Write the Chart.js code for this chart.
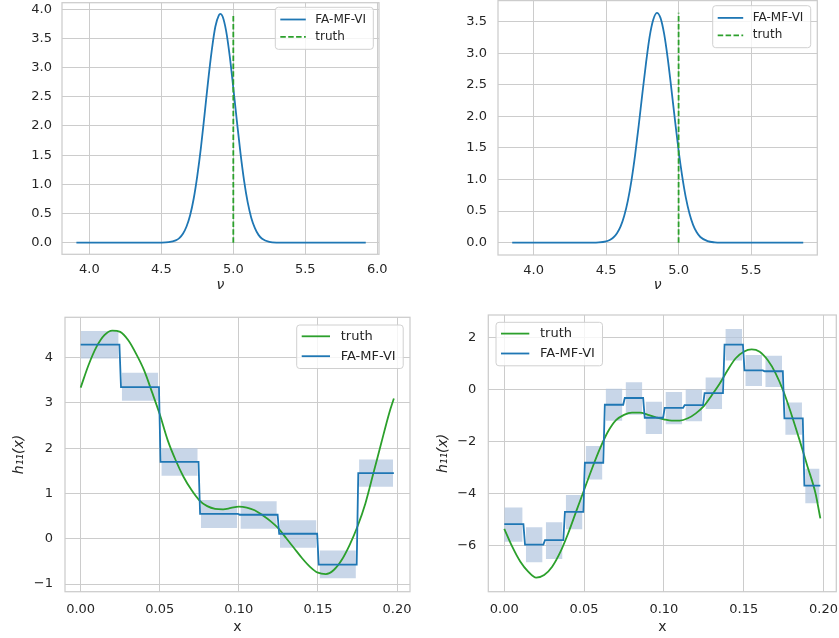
<!DOCTYPE html>
<html>
<head>
<meta charset="utf-8">
<script src="https://cdn.jsdelivr.net/npm/chart.js@4.4.0/dist/chart.umd.min.js"></script>
<style>
  body { margin: 0; background: #fff; }
  canvas { position: absolute; }
</style>
</head>
<body>
<canvas id="c1" width="420" height="300" style="left:0;top:0"></canvas>
<canvas id="c2" width="419" height="300" style="left:420px;top:0"></canvas>
<canvas id="c3" width="420" height="338" style="left:0;top:300px"></canvas>
<canvas id="c4" width="419" height="338" style="left:420px;top:300px"></canvas>
<script>
// posterior density of nu, first run
var nuX1 = [3.91, 4.40, 4.50, 4.55, 4.60, 4.625, 4.65, 4.675, 4.70, 4.725, 4.75, 4.775, 4.80, 4.825, 4.85, 4.875, 4.90, 4.91, 4.925, 4.95, 4.975, 5.00, 5.025, 5.05, 5.075, 5.10, 5.125, 5.15, 5.175, 5.20, 5.25, 5.30, 5.40, 5.92];
var nuDens1 = [0, 0, 0.001, 0.008, 0.039, 0.079, 0.152, 0.277, 0.47, 0.757, 1.15, 1.63, 2.19, 2.77, 3.29, 3.70, 3.90, 3.92, 3.88, 3.63, 3.20, 2.65, 2.08, 1.53, 1.06, 0.69, 0.425, 0.25, 0.134, 0.069, 0.015, 0.002, 0, 0];

// posterior density of nu, second run
var nuX2 = [3.852, 4.40, 4.45, 4.50, 4.525, 4.55, 4.575, 4.60, 4.625, 4.65, 4.675, 4.70, 4.725, 4.75, 4.775, 4.80, 4.825, 4.85, 4.875, 4.90, 4.925, 4.95, 4.975, 5.00, 5.025, 5.05, 5.075, 5.10, 5.125, 5.15, 5.20, 5.25, 5.30, 5.40, 5.86];
var nuDens2 = [0, 0.001, 0.004, 0.021, 0.043, 0.082, 0.150, 0.258, 0.426, 0.666, 0.988, 1.39, 1.86, 2.36, 2.84, 3.26, 3.53, 3.64, 3.56, 3.31, 2.92, 2.44, 1.94, 1.46, 1.05, 0.713, 0.462, 0.283, 0.164, 0.090, 0.024, 0.005, 0.001, 0, 0];

var nuTrue = 5.0;
var truthTop1 = 3.92;
var truthTop2 = 3.64;

// h11(x) truth curves
var truthX = [0, 0.005, 0.01, 0.015, 0.02, 0.025, 0.03, 0.035, 0.04, 0.045, 0.05, 0.055, 0.06, 0.065, 0.07, 0.075, 0.08, 0.085, 0.09, 0.095, 0.10, 0.105, 0.11, 0.115, 0.12, 0.125, 0.13, 0.135, 0.14, 0.145, 0.15, 0.155, 0.16, 0.165, 0.17, 0.175, 0.18, 0.185, 0.19, 0.195, 0.198];
var truthY3 = [3.34, 3.84, 4.24, 4.50, 4.60, 4.57, 4.39, 4.09, 3.73, 3.25, 2.75, 2.18, 1.74, 1.37, 1.08, 0.85, 0.72, 0.66, 0.65, 0.68, 0.71, 0.69, 0.63, 0.52, 0.39, 0.23, 0.01, -0.21, -0.43, -0.62, -0.75, -0.78, -0.69, -0.47, -0.14, 0.27, 0.78, 1.44, 2.11, 2.77, 3.10];
var truthY4 = [-5.35, -6.04, -6.61, -7.00, -7.23, -7.13, -6.81, -6.26, -5.53, -4.69, -3.86, -3.03, -2.26, -1.61, -1.17, -0.97, -0.88, -0.88, -0.97, -1.06, -1.14, -1.19, -1.19, -1.10, -0.91, -0.63, -0.21, 0.24, 0.76, 1.21, 1.46, 1.55, 1.46, 1.14, 0.63, -0.08, -0.97, -1.94, -2.96, -3.99, -4.95];

// FA-MF-VI piecewise constant fits with bands
var stepEdges3 = [0, 0.025, 0.05, 0.075, 0.1, 0.125, 0.15, 0.175, 0.1985];
var stepMean3 = [4.29, 3.35, 1.70, 0.55, 0.53, 0.11, -0.57, 1.45];
var bandHi3 = [4.59, 3.67, 2.00, 0.855, 0.83, 0.41, -0.26, 1.75];
var bandLo3 = [3.98, 3.05, 1.39, 0.236, 0.22, -0.20, -0.875, 1.15];

var stepEdges4 = [0, 0.0125, 0.025, 0.0375, 0.05, 0.0625, 0.075, 0.0875, 0.1, 0.1125, 0.125, 0.1375, 0.15, 0.1625, 0.175, 0.1875, 0.1985];
var stepMean4 = [-5.17, -5.96, -5.79, -4.70, -2.81, -0.58, -0.32, -1.08, -0.70, -0.59, -0.13, 1.73, 0.74, 0.71, -1.10, -3.69];
var bandHi4 = [-4.53, -5.29, -5.10, -4.05, -2.17, 0.04, 0.29, -0.46, -0.09, 0.01, 0.47, 2.33, 1.33, 1.31, -0.49, -3.04];
var bandLo4 = [-5.85, -6.64, -6.51, -5.37, -3.45, -1.19, -0.96, -1.70, -1.33, -1.21, -0.74, 1.12, 0.14, 0.10, -1.73, -4.37];

var ticksNu1 = [4.0, 4.5, 5.0, 5.5, 6.0];
var ticksNu2 = [4.0, 4.5, 5.0, 5.5];
var ticksDens1 = [0, 0.5, 1.0, 1.5, 2.0, 2.5, 3.0, 3.5, 4.0];
var ticksDens2 = [0, 0.5, 1.0, 1.5, 2.0, 2.5, 3.0, 3.5];
var ticksX = [0, 0.05, 0.10, 0.15, 0.20];
var ticksH3 = [-1, 0, 1, 2, 3, 4];
var ticksH4 = [-6, -4, -2, 0, 2];

var BLUE = '#1f77b4';
var GREEN = '#2ca02c';
var BAND = 'rgba(176,196,222,0.7)';
var TEXT = '#262626';
var GRID = '#cccccc';
var FONT = '"DejaVu Sans", sans-serif';
var LW = 1.8;

function pts(xs, ys) {
  return xs.map(function(x, i) { return {x: x, y: ys[i]}; });
}

function stepLine(edges, vals) {
  var out = [];
  for (var k = 0; k < vals.length; k++) {
    out.push({x: edges[k] + (k ? 0.0005 : 0), y: vals[k]});
    out.push({x: edges[k + 1] - 0.0005, y: vals[k]});
  }
  return out;
}

function bandSets(edges, lo, hi) {
  return lo.map(function(l, k) {
    return {
      data: [{x: edges[k] + (k ? 0.001 : 0), y: hi[k]}, {x: edges[k + 1] - 0.001, y: hi[k]}],
      fill: {value: l},
      backgroundColor: BAND,
      borderColor: 'rgba(0,0,0,0)',
      borderWidth: 0,
      tension: 0,
      order: 5
    };
  });
}

function fmt(d) {
  return function(v) {
    var s = Math.abs(v).toFixed(d);
    return v < 0 ? '\u2212' + s : s;
  };
}

var framePlugin = {
  id: 'frame',
  beforeDatasetsDraw: function(chart) {
    var a = chart.chartArea, ctx = chart.ctx;
    ctx.save();
    ctx.strokeStyle = GRID;
    ctx.lineWidth = 1.25;
    ctx.strokeRect(a.left, a.top, a.right - a.left, a.bottom - a.top);
    ctx.restore();
  }
};

function legendPlugin(lg) {
  return {
    id: 'boxLegend',
    afterDraw: function(chart) {
      var ctx = chart.ctx;
      ctx.save();
      ctx.beginPath();
      ctx.roundRect(lg.x, lg.y, lg.w, lg.h, 3);
      ctx.fillStyle = 'rgba(255,255,255,0.8)';
      ctx.fill();
      ctx.strokeStyle = '#d0d0d0';
      ctx.lineWidth = 1;
      ctx.stroke();
      ctx.font = lg.size + 'px ' + FONT;
      ctx.textBaseline = 'middle';
      lg.items.forEach(function(it, i) {
        var yy = lg.y + lg.rows[i];
        ctx.strokeStyle = it.color;
        ctx.lineWidth = LW;
        ctx.setLineDash(it.dash || []);
        ctx.beginPath();
        ctx.moveTo(lg.x + 5, yy);
        ctx.lineTo(lg.x + lg.handle, yy);
        ctx.stroke();
        ctx.setLineDash([]);
        ctx.fillStyle = TEXT;
        ctx.fillText(it.label, lg.x + lg.textX, yy);
      });
      ctx.restore();
    }
  };
}

function makeChart(id, o) {
  return new Chart(document.getElementById(id), {
    type: 'line',
    data: { datasets: o.datasets },
    options: {
      animation: false,
      responsive: false,
      devicePixelRatio: 1,
      layout: { padding: o.pad },
      plugins: { legend: { display: false }, tooltip: { enabled: false } },
      elements: { point: { radius: 0 } },
      scales: {
        x: {
          type: 'linear', min: o.xr[0], max: o.xr[1],
          afterBuildTicks: function(s) { s.ticks = o.xt.map(function(v) { return {value: v}; }); },
          afterFit: function(s) { s.height = o.xh; s.paddingLeft = 0; s.paddingRight = 0; s.paddingTop = 0; s.paddingBottom = 0; },
          ticks: { callback: fmt(o.xd), font: { family: FONT, size: 13 }, color: TEXT, padding: o.xpad, autoSkip: false, maxRotation: 0 },
          grid: { color: GRID, lineWidth: 1, drawTicks: false },
          border: { display: false },
          title: { display: true, text: o.xtitle, color: TEXT, font: { family: FONT, size: 14, style: o.xstyle }, padding: { top: 0, bottom: o.xtpad } }
        },
        y: {
          type: 'linear', min: o.yr[0], max: o.yr[1],
          afterBuildTicks: function(s) { s.ticks = o.yt.map(function(v) { return {value: v}; }); },
          afterFit: function(s) { s.width = o.yw; s.paddingLeft = 0; s.paddingRight = 0; s.paddingTop = 0; s.paddingBottom = 0; },
          ticks: { callback: fmt(o.yd), font: { family: FONT, size: 13 }, color: TEXT, padding: o.ypad, autoSkip: false },
          grid: { color: GRID, lineWidth: 1, drawTicks: false },
          border: { display: false },
          title: { display: !!o.ytitle, text: o.ytitle || '', color: TEXT, font: { family: FONT, size: 14, style: 'italic' }, padding: { top: o.ytpad || 0, bottom: 0 } }
        }
      }
    },
    plugins: [framePlugin, legendPlugin(o.legend)]
  });
}

var topLegend = function(x, y) {
  return { x: x, y: y, w: 98, h: 42, rows: [12.2, 29.6], handle: 30.5, textX: 40, size: 12,
    items: [{label: 'FA-MF-VI', color: BLUE}, {label: 'truth', color: GREEN, dash: [5.5, 2.4]}] };
};
var botLegend = function(x, y) {
  return { x: x, y: y, w: 106.5, h: 43.5, rows: [11.3, 31.2], handle: 33.3, textX: 44, size: 13,
    items: [{label: 'truth', color: GREEN}, {label: 'FA-MF-VI', color: BLUE}] };
};

makeChart('c1', {
  datasets: [
    { data: [{x: nuTrue, y: 0}, {x: nuTrue, y: truthTop1}], borderColor: GREEN, borderWidth: LW, borderDash: [5.5, 2.4], order: 0 },
    { data: pts(nuX1, nuDens1), borderColor: BLUE, borderWidth: LW, tension: 0.4, cubicInterpolationMode: 'monotone', order: 1 }
  ],
  pad: { left: 0, top: 2.7, right: 41, bottom: 0 },
  xr: [3.81, 6.012], yr: [-0.199, 4.113], xt: ticksNu1, yt: ticksDens1, xd: 1, yd: 1,
  xh: 45.7, yw: 62, xpad: 8, ypad: 10, xtitle: '\u03bd', xstyle: 'italic', xtpad: 6.6,
  legend: topLegend(275.3, 7.3)
});

makeChart('c2', {
  datasets: [
    { data: [{x: nuTrue, y: 0}, {x: nuTrue, y: truthTop2}], borderColor: GREEN, borderWidth: LW, borderDash: [5.5, 2.4], order: 0 },
    { data: pts(nuX2, nuDens2), borderColor: BLUE, borderWidth: LW, tension: 0.4, cubicInterpolationMode: 'monotone', order: 1 }
  ],
  pad: { left: 0, top: 0.6, right: 21.7, bottom: 0 },
  xr: [3.754, 5.957], yr: [-0.195, 3.834], xt: ticksNu2, yt: ticksDens2, xd: 1, yd: 1,
  xh: 45, yw: 78, xpad: 8, ypad: 11, xtitle: '\u03bd', xstyle: 'italic', xtpad: 6.6,
  legend: topLegend(292.7, 5.7)
});

makeChart('c3', {
  datasets: [
    { data: stepLine(stepEdges3, stepMean3), borderColor: BLUE, borderWidth: LW, tension: 0, order: 0 },
    { data: pts(truthX, truthY3), borderColor: GREEN, borderWidth: LW, tension: 0.4, cubicInterpolationMode: 'monotone', order: 1 }
  ].concat(bandSets(stepEdges3, bandLo3, bandHi3)),
  pad: { left: 0, top: 17.3, right: 10, bottom: 0 },
  xr: [-0.0099, 0.2082], yr: [-1.17, 4.893], xt: ticksX, yt: ticksH3, xd: 2, yd: 0,
  xh: 46.3, yw: 65, xpad: 10, ypad: 12, xtitle: 'x', xstyle: 'normal', xtpad: 2.6,
  ytitle: 'h\u2081\u2081(x)', ytpad: 11.1,
  legend: botLegend(296.7, 25)
});

makeChart('c4', {
  datasets: [
    { data: stepLine(stepEdges4, stepMean4), borderColor: BLUE, borderWidth: LW, tension: 0, order: 0 },
    { data: pts(truthX, truthY4), borderColor: GREEN, borderWidth: LW, tension: 0.4, cubicInterpolationMode: 'monotone', order: 1 }
  ].concat(bandSets(stepEdges4, bandLo4, bandHi4)),
  pad: { left: 0, top: 15, right: 2.7, bottom: 0 },
  xr: [-0.01, 0.208], yr: [-7.77, 2.873], xt: ticksX, yt: ticksH4, xd: 2, yd: 0,
  xh: 46.3, yw: 68.3, xpad: 10, ypad: 12, xtitle: 'x', xstyle: 'normal', xtpad: 2.6,
  ytitle: 'h\u2081\u2081(x)', ytpad: 14.6,
  legend: botLegend(76, 22.3)
});
</script>
</body>
</html>
